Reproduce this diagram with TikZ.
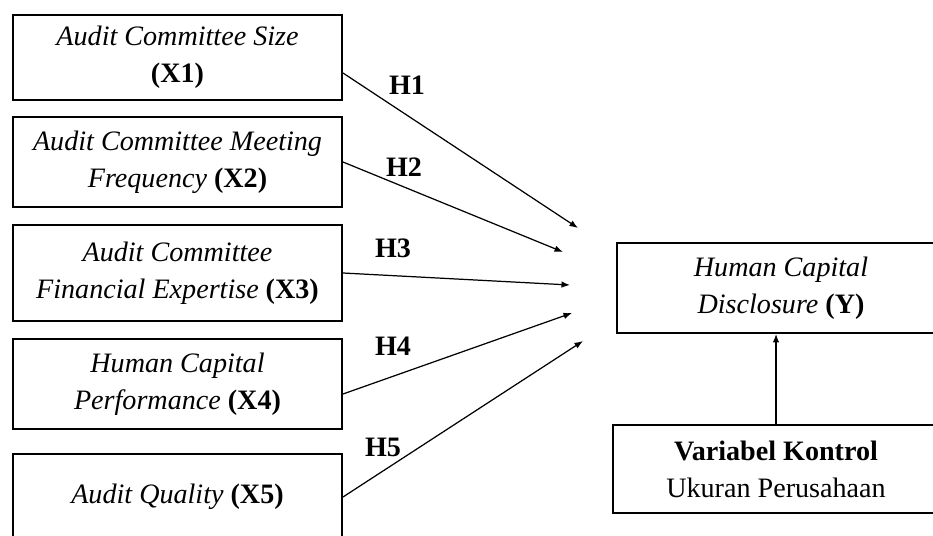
\documentclass[tikz,border=0pt]{standalone}
\usepackage{fontspec}
\setmainfont{Liberation Serif}
\usepackage{tikz}
\usetikzlibrary{arrows.meta,positioning}

\begin{document}
\begin{tikzpicture}[
  font=\fontsize{16}{21}\selectfont,
  varbox/.style={draw, line width=1.1pt, align=center, inner sep=0pt, minimum width=6.58cm},
  arrow/.style={-{Latex[length=1.7mm, width=1.3mm]}, line width=0.7pt},
  hyp/.style={font=\fontsize{16}{21}\selectfont\bfseries}
]
\clip (0,0) rectangle (18.66,10.7);

% independent variables
\node[varbox, minimum height=1.7cm] (x1) at (3.55,9.55) {\textit{Audit Committee Size}\\\textbf{(X1)}};
\node[varbox, minimum height=1.8cm] (x2) at (3.55,7.46) {\textit{Audit Committee Meeting}\\\textit{Frequency} \textbf{(X2)}};
\node[varbox, minimum height=1.92cm] (x3) at (3.55,5.24) {\textit{Audit Committee}\\\textit{Financial Expertise} \textbf{(X3)}};
\node[varbox, minimum height=1.8cm] (x4) at (3.55,3.02) {\textit{Human Capital}\\\textit{Performance} \textbf{(X4)}};
\node[varbox, minimum height=2.32cm] (x5) at (3.55,0.46) {\textit{Audit Quality} \textbf{(X5)}\\~};

% dependent variable and control
\node[varbox, minimum width=6.56cm, minimum height=1.8cm] (dv) at (15.62,4.94) {\textit{Human Capital}\\\textit{Disclosure} \textbf{(Y)}};
\node[varbox, minimum width=6.52cm, minimum height=1.76cm] (ctrl) at (15.52,1.32) {\textbf{Variabel Kontrol}\\Ukuran Perusahaan};

\coordinate (e1) at (11.56,6.14);
\coordinate (e2) at (11.26,5.66);
\coordinate (e3) at (11.40,5.00);
\coordinate (e4) at (11.44,4.44);
\coordinate (e5) at (11.66,3.88);

\draw[arrow] ([yshift=-0.31cm]x1.east) -- (e1);
\draw[arrow] (x2.east) -- (e2);
\draw[arrow] (x3.east) -- (e3);
\draw[arrow] ([yshift=-0.2cm]x4.east) -- (e4);
\draw[arrow] ([yshift=0.3cm]x5.east) -- (e5);
\draw[arrow] (ctrl) -- (ctrl |- dv.south);

% hypothesis labels
\node[hyp] (h1) at (8.14,9.0) {H1};
\node[hyp] (h2) at (8.08,7.36) {H2};
\node[hyp] (h3) at (7.86,5.74) {H3};
\node[hyp] (h4) at (7.86,3.78) {H4};
\node[hyp] (h5) at (7.66,1.76) {H5};
\end{tikzpicture}
\end{document}
